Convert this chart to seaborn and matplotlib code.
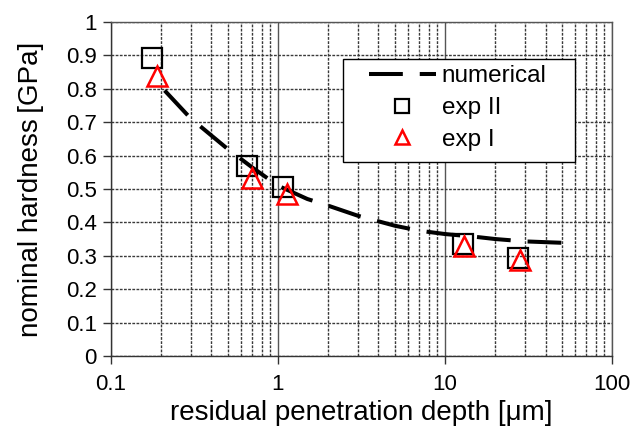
import numpy as np
import pandas as pd
import matplotlib
matplotlib.use('Agg')
import matplotlib.pyplot as plt
import seaborn as sns
from matplotlib.patches import Rectangle
from matplotlib.ticker import LogLocator, FixedLocator, NullFormatter, FuncFormatter

# numerical curve
num_x = [0.21, 0.3, 0.5, 0.7, 1.0, 1.5, 2, 3, 5, 7, 10, 15, 20, 30, 55]
num_y = [0.795, 0.712, 0.62, 0.565, 0.51, 0.47, 0.45, 0.42, 0.39, 0.375, 0.365, 0.357, 0.35, 0.343, 0.338]

# experiments
exp2_x = [0.176, 0.65, 1.07, 12.8, 27.5]
exp2_y = [0.892, 0.569, 0.507, 0.335, 0.292]
exp1_x = [0.188, 0.70, 1.13, 13.0, 28.0]
exp1_y = [0.838, 0.533, 0.486, 0.33, 0.287]

sns.set_style('white')
plt.rcParams['font.family'] = ['Liberation Sans', 'DejaVu Sans']
plt.rcParams['text.color'] = 'black'
plt.rcParams['axes.labelcolor'] = 'black'
plt.rcParams['xtick.color'] = 'black'
plt.rcParams['ytick.color'] = 'black'

fig = plt.figure(figsize=(6.33, 4.41), dpi=100)
ax = fig.add_axes([0.175, 0.193, 0.792, 0.757])

sns.lineplot(x=num_x, y=num_y, ax=ax, color='black', linewidth=2.9,
             label='numerical', zorder=4)
ax.lines[0].set_dashes((8.4, 4.2))
ax.plot(exp2_x, exp2_y, linestyle='none', marker='s', markersize=14,
        markerfacecolor='none', markeredgecolor='black', markeredgewidth=1.6,
        label='exp II', zorder=5)
ax.plot(exp1_x, exp1_y, linestyle='none', marker='^', markersize=14,
        markerfacecolor='none', markeredgecolor='red', markeredgewidth=1.8,
        label='exp I', zorder=6)

ax.set_xscale('log')
ax.set_xlim(0.1, 100)
ax.set_ylim(0, 1)
ax.yaxis.set_major_locator(FixedLocator(np.round(np.arange(0, 1.01, 0.1), 1)))
ax.yaxis.set_major_formatter(FuncFormatter(lambda v, p: f'{v:g}'))
ax.xaxis.set_major_locator(FixedLocator([0.1, 1, 10, 100]))
ax.xaxis.set_major_formatter(FuncFormatter(lambda v, p: f'{v:g}'))
ax.xaxis.set_minor_locator(LogLocator(base=10, subs=np.arange(2, 10)))
ax.xaxis.set_minor_formatter(NullFormatter())

ax.grid(True, which='major', axis='x', color='#555555', linestyle='-', linewidth=1.0)
ax.grid(True, which='minor', axis='x', color='#3a3a3a', linestyle=(0, (2, 1)), linewidth=1.0)
ax.grid(True, which='major', axis='y', color='#3a3a3a', linestyle=(0, (2, 1)), linewidth=1.0)
ax.set_axisbelow(True)

for s in ax.spines.values():
    s.set_color('#555555')
    s.set_linewidth(1.0)
ax.spines['left'].set_color('#333333')
ax.spines['bottom'].set_color('#333333')

ax.tick_params(axis='both', which='major', direction='out', length=6, width=1,
               color='#333333', labelsize=16, left=True, bottom=True)
ax.tick_params(axis='x', which='minor', length=0)
ax.tick_params(axis='x', pad=7)
ax.tick_params(axis='y', pad=4)

ax.set_xlabel('residual penetration depth [\u03bcm]', fontsize=20, labelpad=4)
ax.set_ylabel('nominal hardness\u2009[GPa]', fontsize=20, labelpad=16)

# legend box
ax.add_patch(Rectangle((0.463, 0.581), 0.463, 0.308, transform=ax.transAxes,
                       facecolor='white', edgecolor='black', linewidth=1.0, zorder=7))
leg = ax.legend(loc='upper left', bbox_to_anchor=(0.515, 0.87), fontsize=17.5,
                frameon=False, handlelength=2.75, handletextpad=0.25,
                borderpad=0.0, borderaxespad=0.0, labelspacing=0.4, markerscale=0.75)
leg.set_zorder(8)

fig.savefig('out.png', dpi=100)
